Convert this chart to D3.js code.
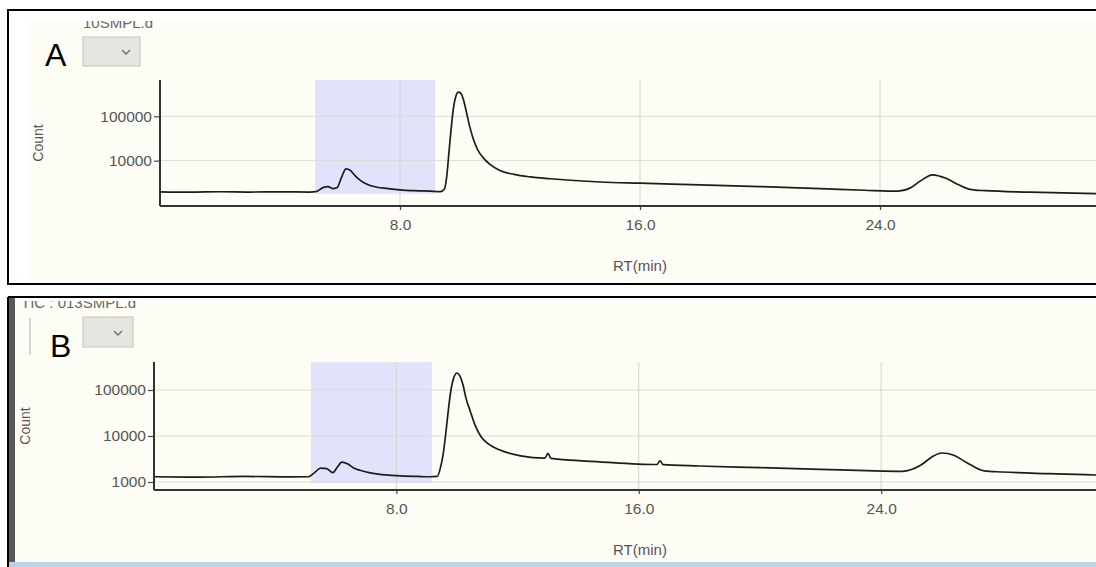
<!DOCTYPE html>
<html>
<head>
<meta charset="utf-8">
<script src="https://cdn.jsdelivr.net/npm/d3@7"></script>
<style>
  html, body { margin: 0; padding: 0; background: #ffffff; }
  svg { display: block; font-family: "Liberation Sans", Arial, sans-serif; }
</style>
</head>
<body>
<svg id="chart" width="1096" height="567"></svg>
<script>
// Total ion chromatogram, sample A (retention time in minutes, ion count)
const rtA = [0, 1.0, 2.0, 3.0, 4.0, 5.0, 5.2, 5.45, 5.6, 5.75, 5.9, 6.05, 6.2, 6.35, 6.5, 6.7, 6.9, 7.2, 7.6, 8.0, 8.5, 9.0, 9.35,
  9.48, 9.56, 9.63, 9.7, 9.78, 9.86, 9.95, 10.03, 10.12, 10.22, 10.32, 10.43, 10.6, 10.77, 11.0, 11.33, 11.8, 12.33, 13.0,
  14.67, 16.0, 18.0, 20.0, 22.0, 23.5, 24.6, 25.0, 25.35, 25.75, 26.2, 26.6, 27.0, 27.5, 29.0, 31.2];
const countA = [1980, 1950, 1990, 1960, 1980, 1960, 2000, 2500, 2600, 2350, 2450, 4200, 6500, 6000, 4600, 3500, 2950, 2550, 2350, 2200, 2100, 2050, 2000,
  2300, 4500, 15000, 48000, 150000, 280000, 350000, 330000, 230000, 120000, 60000, 33000, 17000, 11700, 8200, 6000, 4900, 4300, 3900,
  3300, 3100, 2850, 2600, 2350, 2150, 2050, 2400, 3500, 4800, 4000, 2900, 2250, 2100, 1950, 1800];

// Total ion chromatogram, sample B
const rtB = [0, 1.5, 3.0, 4.5, 5.1, 5.3, 5.5, 5.7, 5.9, 6.05, 6.2, 6.4, 6.6, 6.8, 7.1, 7.4, 8.1, 8.7, 9.1, 9.35,
  9.45, 9.54, 9.62, 9.7, 9.8, 9.9, 10.0, 10.1, 10.2, 10.3, 10.43, 10.6, 10.8, 11.0, 11.4, 12.1, 12.9, 13.0, 13.1,
  14.7, 16.6, 16.7, 16.8, 18.0, 20.0, 22.0, 23.5, 24.7, 25.3, 25.7, 26.0, 26.4, 26.8, 27.4, 28.0, 29.5, 31.1];
const countB = [1300, 1280, 1320, 1290, 1300, 1600, 2000, 1950, 1600, 2100, 2700, 2450, 2000, 1800, 1600, 1480, 1360, 1320, 1300, 1330,
  2000, 3900, 10000, 30000, 100000, 190000, 234000, 200000, 128000, 65000, 36000, 17000, 9500, 7000, 5000, 3700, 3300, 4200, 3250,
  2750, 2400, 2900, 2380, 2230, 2050, 1880, 1760, 1700, 2300, 3600, 4270, 3800, 2700, 1750, 1650, 1520, 1420];

// Axis ticks
const rtTicks = [8, 16, 24];
const countTicksA = [10000, 100000];
const countTicksB = [1000, 10000, 100000];

// Selected retention-time window (min) and its count extent
const windowA = { rt: [5.17, 9.17], count: [1780, 660000] };
const windowB = { rt: [5.18, 9.17], count: [950, 406000] };

const svg = d3.select("#chart");
const cream = "#fdfdf5";

// Panel backgrounds
function frame(p) {
  const g = svg.append("g");
  g.append("rect").attr("x", p.x0).attr("y", p.y0).attr("width", 1200).attr("height", p.h)
    .attr("fill", "#ffffff");
  g.append("rect").attr("x", p.creamX).attr("y", p.creamY).attr("width", 1200).attr("height", p.creamH)
    .attr("fill", cream);
  return g;
}

function panel(cfg) {
  const g = svg.append("g");
  const x = d3.scaleLinear().domain(cfg.xDomain).range([cfg.left, 1096]);
  const y = d3.scaleLog().domain(cfg.yDomain).range([cfg.bottom, cfg.top]);

  // highlighted window
  g.append("rect")
    .attr("x", x(cfg.win.rt[0])).attr("width", x(cfg.win.rt[1]) - x(cfg.win.rt[0]))
    .attr("y", y(cfg.win.count[1])).attr("height", y(cfg.win.count[0]) - y(cfg.win.count[1]))
    .attr("fill", "#e1e3fa");

  // grid
  g.append("g").selectAll("line").data(cfg.yTicks).join("line")
    .attr("x1", cfg.left).attr("x2", 1096).attr("y1", d => y(d)).attr("y2", d => y(d))
    .attr("stroke", "#dcdcd6").attr("stroke-width", 1);
  g.append("g").selectAll("line").data(rtTicks).join("line")
    .attr("x1", d => x(d)).attr("x2", d => x(d)).attr("y1", cfg.top).attr("y2", cfg.bottom)
    .attr("stroke", "#d4d4d0").attr("stroke-width", 1);

  // trace
  const line = d3.line().x((d, i) => x(cfg.rt[i])).y(d => y(d)).curve(d3.curveMonotoneX);
  g.append("path").datum(cfg.count).attr("d", line)
    .attr("fill", "none").attr("stroke", "#1c1c1c").attr("stroke-width", 1.7)
    .attr("stroke-linejoin", "round");

  // axes
  const ax = g.append("g").attr("transform", `translate(0,${cfg.bottom})`)
    .call(d3.axisBottom(x).tickValues(rtTicks).tickFormat(d3.format(".1f")).tickSize(4).tickPadding(9));
  const ay = g.append("g").attr("transform", `translate(${cfg.left},0)`)
    .call(d3.axisLeft(y).tickValues(cfg.yTicks).tickFormat(d3.format("d")).tickSize(6).tickPadding(2));
  [ax, ay].forEach(a => {
    a.select(".domain").attr("stroke", "#333").attr("stroke-width", 2);
    a.selectAll(".tick line").attr("stroke", "#444").attr("stroke-width", 1.2);
    a.selectAll(".tick text").attr("fill", "#555").attr("font-size", 15.5)
      .attr("font-family", "Liberation Sans, Arial, sans-serif");
  });
  ay.select(".domain").attr("d", `M0,${cfg.top}V${cfg.bottom}`);
  ax.select(".domain").attr("d", `M${cfg.left},0H1096`);

  g.append("text").attr("x", 640).attr("y", cfg.bottom + 65).attr("text-anchor", "middle")
    .attr("fill", "#555").attr("font-size", 15).text("RT(min)");
  g.append("text").attr("transform", `translate(${cfg.countX},${(cfg.top + cfg.bottom) / 2}) rotate(-90)`)
    .attr("text-anchor", "middle").attr("dy", "0.35em")
    .attr("fill", "#555").attr("font-size", 14).text("Count");
}

// ---- Panel A ----
frame({ x0: 8, y0: 10, h: 275, creamX: 28, creamY: 20, creamH: 261 });
svg.append("clipPath").attr("id", "clipTitleA").append("rect").attr("x", 20).attr("y", 21).attr("width", 300).attr("height", 20);
svg.append("text").attr("x", 83).attr("y", 28).attr("clip-path", "url(#clipTitleA)")
  .attr("fill", "#666").attr("font-size", 15).text("10SMPL.d");
svg.append("rect").attr("x", 83).attr("y", 37).attr("width", 57).attr("height", 29)
  .attr("fill", "#e6e6e0").attr("stroke", "#c4c4c0");
svg.append("path").attr("d", "M122,50 L126,54 L130,50").attr("fill", "none").attr("stroke", "#666").attr("stroke-width", 1.3);
svg.append("text").attr("x", 45).attr("y", 66).attr("font-size", 32).attr("fill", "#000").text("A");

panel({ xDomain: [0, 31.2], yDomain: [949, 658000], left: 160, top: 80, bottom: 206,
  rt: rtA, count: countA, yTicks: countTicksA, win: windowA, countX: 38 });

// frame border A
svg.append("rect").attr("x", 8).attr("y", 10).attr("width", 1200).attr("height", 274)
  .attr("fill", "none").attr("stroke", "#000").attr("stroke-width", 2);

// ---- Panel B ----
frame({ x0: 8, y0: 297, h: 270, creamX: 16, creamY: 299, creamH: 262 });
svg.append("rect").attr("x", 9).attr("y", 298).attr("width", 6).attr("height", 270).attr("fill", "#5a5a5a");
svg.append("clipPath").attr("id", "clipTitleB").append("rect").attr("x", 16).attr("y", 301).attr("width", 300).attr("height", 20);
svg.append("text").attr("x", 21).attr("y", 308).attr("clip-path", "url(#clipTitleB)")
  .attr("fill", "#666").attr("font-size", 15).text("TIC : 013SMPL.d");
svg.append("line").attr("x1", 30).attr("x2", 30).attr("y1", 318).attr("y2", 355).attr("stroke", "#c8c8c4").attr("stroke-width", 1.5);
svg.append("rect").attr("x", 83).attr("y", 317).attr("width", 50).attr("height", 30)
  .attr("fill", "#e6e6e0").attr("stroke", "#c4c4c0");
svg.append("path").attr("d", "M114,331 L118,335 L122,331").attr("fill", "none").attr("stroke", "#666").attr("stroke-width", 1.3);
svg.append("text").attr("x", 50).attr("y", 357).attr("font-size", 32).attr("fill", "#000").text("B");

panel({ xDomain: [0, 31.09], yDomain: [670, 406000], left: 154, top: 362, bottom: 490,
  rt: rtB, count: countB, yTicks: countTicksB, win: windowB, countX: 25 });

svg.append("line").attr("x1", 8).attr("x2", 1200).attr("y1", 297).attr("y2", 297).attr("stroke", "#000").attr("stroke-width", 2);
svg.append("line").attr("x1", 8).attr("x2", 8).attr("y1", 297).attr("y2", 567).attr("stroke", "#000").attr("stroke-width", 2);
svg.append("rect").attr("x", 9).attr("y", 562).attr("width", 1200).attr("height", 5).attr("fill", "#b9d3ec");
</script>
</body>
</html>
